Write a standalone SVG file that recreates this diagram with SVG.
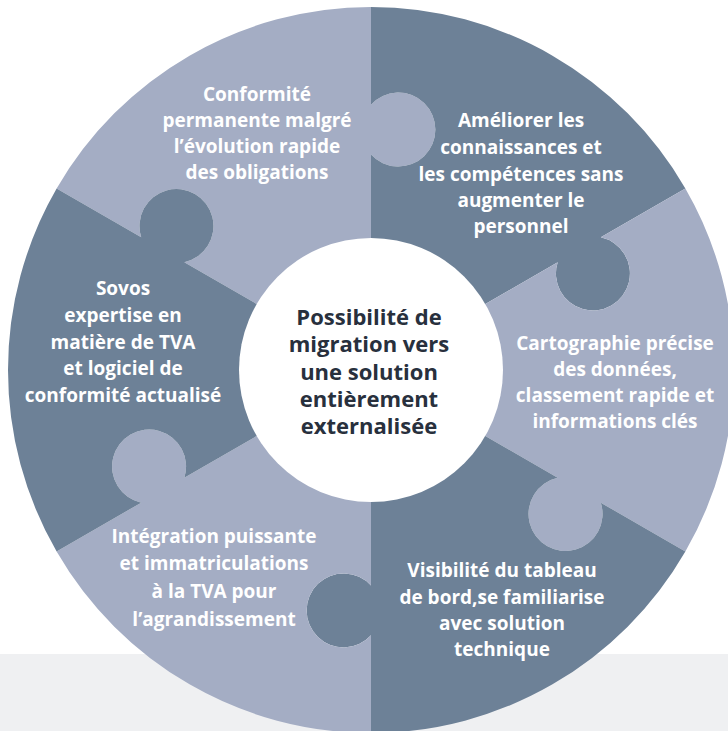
<svg xmlns="http://www.w3.org/2000/svg" width="728" height="731" viewBox="0 0 728 731">
<style>
.light{fill:#a4adc4}
.dark{fill:#6d8197}
.lbl{font-family:"Open Sans","Noto Sans",sans-serif;font-weight:700;font-size:19px;fill:#ffffff;text-anchor:middle}
.ctr{font-family:"Open Sans","Noto Sans",sans-serif;font-weight:700;font-size:22px;fill:#28303d;text-anchor:middle}
</style>
<rect x="0" y="0" width="728" height="731" fill="#ffffff"/>
<rect x="0" y="654" width="728" height="77" fill="#eff0f2"/>
<g id="connectors"></g>
<g id="piece-conformite">
<path class="light" d="M371,370 L371,154.44 A37,37 0 1 0 371,104.68 L371,7 A363,363 0 0 0 56.63,188.5 L141.23,237.34 A37,37 0 1 1 184.32,262.22 Z"/>
<text class="lbl"><tspan x="257" y="101">Conformité</tspan><tspan x="257" y="127">permanente malgré</tspan><tspan x="257" y="153">l’évolution rapide</tspan><tspan x="257" y="179">des obligations</tspan></text>
</g>
<g id="piece-ameliorer">
<path class="dark" d="M371,370 L557.68,262.22 A37,37 0 1 0 600.77,237.34 L685.37,188.5 A363,363 0 0 0 371,7 L371,104.68 A37,37 0 1 1 371,154.44 Z"/>
<text class="lbl"><tspan x="521" y="127">Améliorer les</tspan><tspan x="521" y="154">connaissances et</tspan><tspan x="521" y="181">les compétences sans</tspan><tspan x="521" y="207">augmenter le</tspan><tspan x="521" y="233">personnel</tspan></text>
</g>
<g id="piece-cartographie">
<path class="light" d="M371,370 L557.68,477.78 A37,37 0 1 0 600.77,502.66 L685.37,551.5 A363,363 0 0 0 685.37,188.5 L600.77,237.34 A37,37 0 1 1 557.68,262.22 Z"/>
<text class="lbl"><tspan x="615" y="350">Cartographie précise</tspan><tspan x="615" y="376">des données,</tspan><tspan x="615" y="402">classement rapide et</tspan><tspan x="615" y="428">informations clés</tspan></text>
</g>
<g id="piece-visibilite">
<path class="dark" d="M371,370 L371,585.56 A37,37 0 1 0 371,635.32 L371,733 A363,363 0 0 0 685.37,551.5 L600.77,502.66 A37,37 0 1 1 557.68,477.78 Z"/>
<text class="lbl"><tspan x="502" y="577">Visibilité du tableau</tspan><tspan x="502" y="604">de bord,se familiarise</tspan><tspan x="502" y="630">avec solution</tspan><tspan x="502" y="656">technique</tspan></text>
</g>
<g id="piece-integration">
<path class="light" d="M371,370 L184.32,477.78 A37,37 0 1 0 141.23,502.66 L56.63,551.5 A363,363 0 0 0 371,733 L371,635.32 A37,37 0 1 1 371,585.56 Z"/>
<text class="lbl"><tspan x="214" y="543">Intégration puissante</tspan><tspan x="214" y="570">et immatriculations</tspan><tspan x="214" y="598">à la TVA pour</tspan><tspan x="214" y="626">l’agrandissement</tspan></text>
</g>
<g id="piece-sovos">
<path class="dark" d="M371,370 L184.32,262.22 A37,37 0 1 0 141.23,237.34 L56.63,188.5 A363,363 0 0 0 56.63,551.5 L141.23,502.66 A37,37 0 1 1 184.32,477.78 Z"/>
<text class="lbl"><tspan x="123" y="295">Sovos</tspan><tspan x="123" y="322">expertise en</tspan><tspan x="123" y="349">matière de TVA</tspan><tspan x="123" y="375">et logiciel de</tspan><tspan x="123" y="402">conformité actualisé</tspan></text>
</g>
<g id="center">
<circle cx="371" cy="370" r="132" fill="#ffffff"/>
<text class="ctr"><tspan x="369" y="325">Possibilité de</tspan><tspan x="369" y="352">migration vers</tspan><tspan x="369" y="380">une solution</tspan><tspan x="369" y="407">entièrement</tspan><tspan x="369" y="434">externalisée</tspan></text>
</g>
</svg>
